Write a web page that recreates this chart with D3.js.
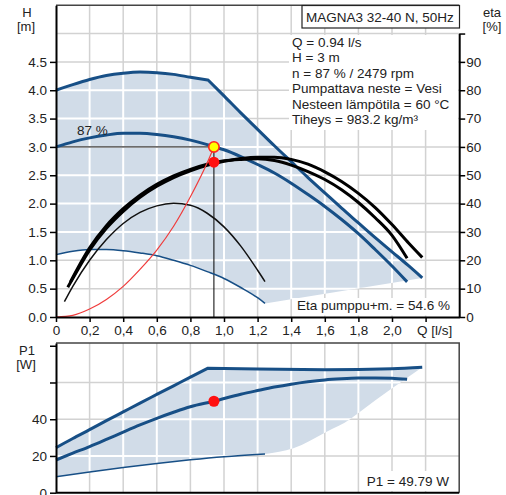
<!DOCTYPE html>
<html>
<head>
<meta charset="utf-8">
<script src="https://cdn.jsdelivr.net/npm/d3@7"></script>
<style>
  body { margin: 0; background: #fff; }
  text { font-family: "Liberation Sans", Arial, sans-serif; fill: #222; }
</style>
</head>
<body>
<div id="chart"></div>
<script>
// pump curves
// max speed H curve: rising part up to the power limit kink, then the falling part
const qMaxH = [0, 0.1, 0.2, 0.3, 0.4, 0.5, 0.6, 0.7, 0.8, 0.905, 1.0, 1.1, 1.2, 1.3, 1.4, 1.5, 1.6, 1.7, 1.8, 1.9, 2.0, 2.1, 2.18]
const hMax = [4.00, 4.10, 4.19, 4.26, 4.30, 4.32, 4.31, 4.28, 4.23, 4.18, 3.90, 3.60, 3.31, 3.02, 2.74, 2.46, 2.19, 1.92, 1.66, 1.40, 1.15, 0.90, 0.69]
const kinkIndexH = 9

const q87H = [0, 0.1, 0.2, 0.3, 0.4, 0.5, 0.6, 0.7, 0.8, 0.9, 1.0, 1.1, 1.2, 1.3, 1.4, 1.5, 1.6, 1.7, 1.8, 1.9, 2.0, 2.09]
const h87 = [3.00, 3.09, 3.16, 3.21, 3.24, 3.24, 3.22, 3.18, 3.12, 3.04, 2.95, 2.83, 2.69, 2.54, 2.36, 2.16, 1.95, 1.72, 1.47, 1.19, 0.90, 0.62]

const qMinH = [0, 0.1, 0.2, 0.3, 0.4, 0.5, 0.6, 0.7, 0.8, 0.9, 1.0, 1.1, 1.2, 1.244]
const hMin = [1.10, 1.16, 1.19, 1.19, 1.17, 1.13, 1.08, 1.00, 0.91, 0.80, 0.68, 0.52, 0.34, 0.24]

const qEtaMax = [0.07, 0.1, 0.2, 0.3, 0.4, 0.5, 0.6, 0.7, 0.8, 0.9, 1.0, 1.1, 1.2, 1.3, 1.4, 1.5, 1.6, 1.7, 1.8, 1.9, 2.0, 2.1, 2.18]
const etaMax = [10.5, 13.6, 23.6, 31.3, 37.3, 42.2, 46.1, 49.2, 51.6, 53.5, 54.9, 55.9, 56.4, 56.4, 55.6, 53.9, 51.2, 47.8, 43.6, 38.6, 32.6, 26.0, 21.0]

const qEta87 = [0.085, 0.2, 0.3, 0.4, 0.5, 0.6, 0.7, 0.8, 0.9, 1.0, 1.1, 1.2, 1.3, 1.4, 1.5, 1.6, 1.7, 1.8, 1.9, 2.0, 2.09]
const eta87 = [12.3, 24.4, 32.2, 38.2, 43.0, 46.8, 49.8, 52.1, 53.9, 55.1, 55.6, 55.8, 55.2, 53.6, 51.3, 48.5, 44.9, 40.4, 35.0, 28.8, 20.7]

const qEtaMin = [0.05, 0.1, 0.2, 0.3, 0.4, 0.5, 0.6, 0.7, 0.8, 0.9, 1.0, 1.1, 1.2, 1.244]
const etaMin = [5.4, 10.8, 20.0, 27.3, 33.0, 36.9, 39.2, 40.1, 39.4, 36.6, 31.8, 25.0, 16.5, 12.5]

// system curve (red)
const qSys = [0, 0.1, 0.2, 0.3, 0.4, 0.5, 0.6, 0.7, 0.8, 0.9, 0.94]
const hSys = [0, 0.03, 0.14, 0.31, 0.54, 0.84, 1.18, 1.60, 2.12, 2.72, 3.0]

// power P1 [W]
const qMaxP = [0, 0.1, 0.2, 0.3, 0.4, 0.5, 0.6, 0.7, 0.8, 0.905, 1.2, 1.6, 2.0, 2.18]
const pMax = [24.5, 29.5, 34.3, 39.2, 44.0, 48.8, 53.5, 58.2, 62.9, 67.8, 67.3, 67.0, 67.5, 68.3]
const kinkIndexP = 9

const q87P = [0, 0.1, 0.2, 0.3, 0.4, 0.5, 0.6, 0.7, 0.8, 0.94, 1.1, 1.2, 1.3, 1.4, 1.5, 1.6, 1.7, 1.8, 1.9, 2.0, 2.09]
const p87 = [17.8, 21.5, 25.1, 29.0, 33.0, 36.9, 40.5, 43.8, 46.8, 49.8, 53.6, 55.6, 57.5, 59.1, 60.4, 61.4, 62.0, 62.4, 62.5, 62.3, 61.7]

const qMinP = [0, 0.2, 0.4, 0.6, 0.8, 1.0, 1.244]
const pMin = [8.7, 11.3, 13.7, 15.9, 17.9, 19.6, 21.1]

const qEdgeP = [1.244, 1.413, 1.611, 1.75, 1.81, 1.988, 2.18]
const pEdge = [21.1, 24.2, 33.2, 40.0, 44.1, 56.0, 68.3]

// duty point
const duty = {q: 0.94, h: 3.0, eta: 54.6, p1: 49.79}

// ticks
const qTicks = [0, 0.2, 0.4, 0.6, 0.8, 1.0, 1.2, 1.4, 1.6, 1.8, 2.0, 2.2]
const hTicks = [0, 0.5, 1.0, 1.5, 2.0, 2.5, 3.0, 3.5, 4.0, 4.5]
const hGrid = [0.5, 1.0, 1.5, 2.0, 2.5, 3.0, 3.5, 4.0, 4.5, 5.0]
const etaTicks = [0, 10, 20, 30, 40, 50, 60, 70, 80, 90, 100]
const pTicks = [0, 20, 40, 60, 80]

const infoLines = [
  'Q = 0.94 l/s',
  'H = 3 m',
  'n = 87 % / 2479 rpm',
  'Pumpattava neste = Vesi',
  'Nesteen lämpötila = 60 °C',
  'Tiheys = 983.2 kg/m³'
]

const zip = (qs, vs) => qs.map((q, i) => [q, vs[i]])

const width = 506
const height = 495
const blue = '#174f86'
const shade = '#d1dce8'
const gridGrey = '#d2d2d2'

const x = d3.scaleLinear().domain([0, 2.4]).range([56, 459.2])
const yH = d3.scaleLinear().domain([0, 5.5]).range([317, 5.2])
const yE = d3.scaleLinear().domain([0, 110]).range([317, 5.2])
const yP = d3.scaleLinear().domain([0, 81.5]).range([492.7, 343])

const svg = d3.select('#chart').append('svg')
  .attr('width', width)
  .attr('height', height)

const lineH = d3.line().x(d => x(d[0])).y(d => yH(d[1])).curve(d3.curveMonotoneX)
const lineE = d3.line().x(d => x(d[0])).y(d => yE(d[1])).curve(d3.curveMonotoneX)
const lineP = d3.line().x(d => x(d[0])).y(d => yP(d[1])).curve(d3.curveMonotoneX)

// a curve with a sharp corner at index k
const kinked = (line, pts, k) => line(pts.slice(0, k + 1)) + line(pts.slice(k)).replace(/^M/, 'L')

function grid(g, yScale, yVals, y0, y1, color, w) {
  g.selectAll('.gv').data(qTicks.slice(1)).join('line')
    .attr('class', 'gv')
    .attr('x1', d => x(d)).attr('x2', d => x(d))
    .attr('y1', y0).attr('y2', y1)
    .attr('stroke', color).attr('stroke-width', w)
  g.selectAll('.gh').data(yVals).join('line')
    .attr('class', 'gh')
    .attr('x1', x(0)).attr('x2', x(2.4))
    .attr('y1', d => yScale(d)).attr('y2', d => yScale(d))
    .attr('stroke', color).attr('stroke-width', w)
}

function styleAxis(ax) {
  ax.select('.domain').attr('stroke', '#000').attr('stroke-width', 2)
  ax.selectAll('.tick line').attr('stroke', '#000').attr('stroke-width', 1.5)
  ax.selectAll('.tick text').attr('font-size', 13.5).attr('fill', '#222')
    .style('font-family', '"Liberation Sans", Arial, sans-serif')
}

// ---------- top chart ----------
const gTop = svg.append('g')

grid(gTop.append('g'), yH, hGrid, yH(0), yH(5.5), gridGrey, 1.5)

const maxHPts = zip(qMaxH, hMax)
const minHPts = zip(qMinH, hMin)
const maxHPath = kinked(lineH, maxHPts, kinkIndexH)
const areaTop = maxHPath + lineH(minHPts.slice().reverse()).replace(/^M/, 'L') + 'Z'

gTop.append('path').attr('d', areaTop).attr('fill', shade)
svg.append('clipPath').attr('id', 'clipTop').append('path').attr('d', areaTop)
grid(gTop.append('g').attr('clip-path', 'url(#clipTop)'), yH, hGrid, yH(0), yH(5.5), '#fff', 2)

// helper lines to the duty point
gTop.append('line')
  .attr('x1', x(0)).attr('x2', x(duty.q))
  .attr('y1', yH(duty.h)).attr('y2', yH(duty.h))
  .attr('stroke', '#000').attr('stroke-width', 1)
gTop.append('line')
  .attr('x1', x(duty.q)).attr('x2', x(duty.q))
  .attr('y1', yH(duty.h)).attr('y2', yH(0))
  .attr('stroke', '#000').attr('stroke-width', 1)

// H curves
gTop.append('path').attr('d', lineH(minHPts)).attr('fill', 'none').attr('stroke', blue).attr('stroke-width', 1.5)
gTop.append('path').attr('d', maxHPath).attr('fill', 'none').attr('stroke', blue).attr('stroke-width', 3)
  .attr('stroke-linejoin', 'round')
gTop.append('path').attr('d', lineH(zip(q87H, h87))).attr('fill', 'none').attr('stroke', blue).attr('stroke-width', 3)

// eta curves
gTop.append('path').attr('d', lineE(zip(qEtaMin, etaMin))).attr('fill', 'none').attr('stroke', '#111').attr('stroke-width', 1.5)
gTop.append('path').attr('d', lineE(zip(qEtaMax, etaMax))).attr('fill', 'none').attr('stroke', '#000').attr('stroke-width', 3)
gTop.append('path').attr('d', lineE(zip(qEta87, eta87))).attr('fill', 'none').attr('stroke', '#000').attr('stroke-width', 3)

// system curve
gTop.append('path').attr('d', lineH(zip(qSys, hSys))).attr('fill', 'none').attr('stroke', '#f03c3c').attr('stroke-width', 1.2)

gTop.append('circle').attr('cx', x(duty.q)).attr('cy', yE(duty.eta)).attr('r', 5.5).attr('fill', '#ff1010')
gTop.append('circle').attr('cx', x(duty.q)).attr('cy', yH(duty.h)).attr('r', 5.2)
  .attr('fill', '#ffff00').attr('stroke', '#f22').attr('stroke-width', 1.6)

gTop.append('text').attr('x', 77).attr('y', 135).attr('font-size', 13.5).text('87 %')

// frame and axes
gTop.append('line').attr('x1', x(0)).attr('x2', x(2.4)).attr('y1', yH(5.5)).attr('y2', yH(5.5))
  .attr('stroke', '#444').attr('stroke-width', 1.5)

const axH = gTop.append('g').attr('transform', `translate(${x(0)},0)`)
  .call(d3.axisLeft(yH).tickValues(hTicks).tickSize(6).tickSizeOuter(0).tickPadding(3)
    .tickFormat(d3.format('.1f')))
const yEta = yE.copy().domain([0, 100]).range([yE(0), yE(100)])
const axE = gTop.append('g').attr('transform', `translate(${x(2.4)},0)`)
  .call(d3.axisRight(yEta).tickValues(etaTicks).tickSize(6).tickSizeOuter(0).tickPadding(1)
    .tickFormat(d => d === 100 ? '' : d))
const axQ = gTop.append('g').attr('transform', `translate(0,${yH(0)})`)
  .call(d3.axisBottom(x).tickValues(qTicks).tickSize(5).tickSizeOuter(0).tickPadding(3)
    .tickFormat(d => d === 0 ? '0' : d > 2.1 ? '' : d.toFixed(1).replace('.', ',')))
;[axH, axE, axQ].forEach(styleAxis)

gTop.append('text').attr('x', 417).attr('y', 335).attr('font-size', 13.5).text('Q [l/s]')
gTop.append('text').attr('x', 27).attr('y', 16.5).attr('text-anchor', 'middle').attr('font-size', 13).text('H')
gTop.append('text').attr('x', 26).attr('y', 31).attr('text-anchor', 'middle').attr('font-size', 13).text('[m]')
gTop.append('text').attr('x', 492).attr('y', 16.5).attr('text-anchor', 'middle').attr('font-size', 13).text('eta')
gTop.append('text').attr('x', 492).attr('y', 31).attr('text-anchor', 'middle').attr('font-size', 13).text('[%]')

// title box
gTop.append('rect').attr('x', 302).attr('y', 5.5).attr('width', 157.5).attr('height', 22.5)
  .attr('fill', '#fff').attr('stroke', '#222').attr('stroke-width', 1.2)
gTop.append('text').attr('x', 306).attr('y', 21.5).attr('font-size', 13.5).text('MAGNA3 32-40 N, 50Hz')

// info box
gTop.append('rect').attr('x', 289).attr('y', 35).attr('width', 169).attr('height', 95).attr('fill', '#fff')
gTop.selectAll('.info').data(infoLines).join('text')
  .attr('class', 'info')
  .attr('x', 292).attr('y', (d, i) => 46.5 + i * 15.5)
  .attr('font-size', 13.5).text(d => d)

gTop.append('rect').attr('x', 292).attr('y', 298).attr('width', 166).attr('height', 17.5).attr('fill', '#fff')
gTop.append('text').attr('x', 450).attr('y', 310).attr('text-anchor', 'end').attr('font-size', 13.5)
  .text('Eta pumppu+m. = 54.6 %')

// ---------- bottom chart ----------
const gBot = svg.append('g')
grid(gBot.append('g'), yP, [20, 40, 60], yP(0), yP(81.5), gridGrey, 1.5)

const maxPPts = zip(qMaxP, pMax)
const maxPPath = kinked(lineP, maxPPts, kinkIndexP)
const areaBot = maxPPath
  + lineP(zip(qEdgeP, pEdge).reverse()).replace(/^M/, 'L')
  + lineP(zip(qMinP, pMin).reverse()).replace(/^M/, 'L') + 'Z'

gBot.append('path').attr('d', areaBot).attr('fill', shade)
svg.append('clipPath').attr('id', 'clipBot').append('path').attr('d', areaBot)
grid(gBot.append('g').attr('clip-path', 'url(#clipBot)'), yP, [20, 40, 60], yP(0), yP(81.5), '#fff', 2)

gBot.append('path').attr('d', lineP(zip(qMinP, pMin))).attr('fill', 'none').attr('stroke', blue).attr('stroke-width', 1.5)
gBot.append('path').attr('d', maxPPath).attr('fill', 'none').attr('stroke', blue).attr('stroke-width', 3)
  .attr('stroke-linejoin', 'round')
gBot.append('path').attr('d', lineP(zip(q87P, p87))).attr('fill', 'none').attr('stroke', blue).attr('stroke-width', 3)

gBot.append('circle').attr('cx', x(duty.q)).attr('cy', yP(duty.p1)).attr('r', 5.5).attr('fill', '#ff1010')

// frame
gBot.append('path')
  .attr('d', `M${x(0)},${yP(81.5)}H${x(2.4)}V${yP(0)}`)
  .attr('fill', 'none').attr('stroke', '#444').attr('stroke-width', 1.5)
gBot.append('line').attr('x1', x(0)).attr('x2', x(2.4)).attr('y1', yP(0)).attr('y2', yP(0))
  .attr('stroke', '#000').attr('stroke-width', 2)

const axP = gBot.append('g').attr('transform', `translate(${x(0)},0)`)
  .call(d3.axisLeft(yP).tickValues(pTicks).tickSize(6).tickSizeOuter(0).tickPadding(3)
    .tickFormat(d => d <= 40 ? d : ''))
styleAxis(axP)

gBot.append('text').attr('x', 27).attr('y', 354.5).attr('text-anchor', 'middle').attr('font-size', 13).text('P1')
gBot.append('text').attr('x', 26).attr('y', 369).attr('text-anchor', 'middle').attr('font-size', 13).text('[W]')

gBot.append('rect').attr('x', 362).attr('y', 471).attr('width', 96).attr('height', 20).attr('fill', '#fff')
gBot.append('text').attr('x', 449).attr('y', 486).attr('text-anchor', 'end').attr('font-size', 13.5)
  .text('P1 = 49.79 W')
</script>
</body>
</html>
